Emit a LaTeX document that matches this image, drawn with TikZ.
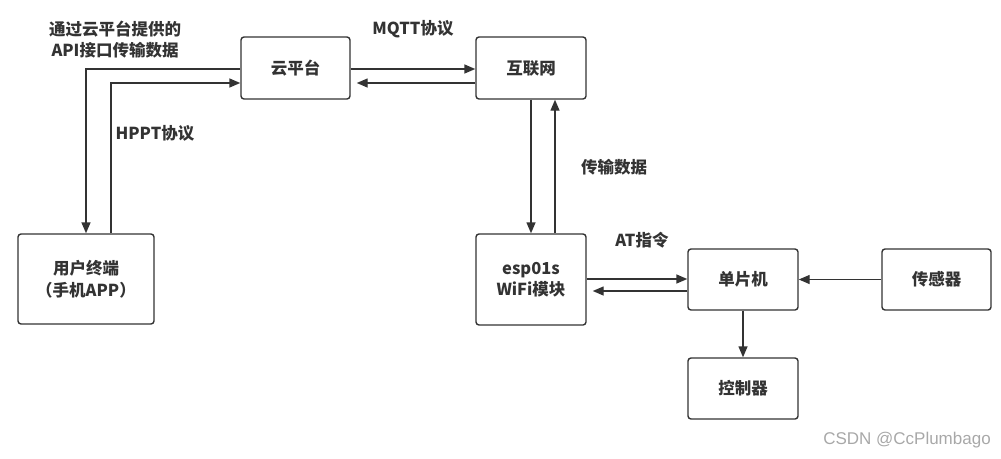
\documentclass[tikz,border=0pt]{standalone}
\usepackage{fontspec}
\setmainfont{Noto Sans CJK SC}
\newfontfamily\wmfont{Liberation Sans}
\usetikzlibrary{arrows.meta}
\definecolor{ink}{HTML}{333333}
\definecolor{wm}{HTML}{A8A8A8}
\tikzset{
  box/.style={draw=ink, line width=1.4pt, rounded corners=3pt, inner sep=0pt,
    align=center, text=ink, font=\fontsize{16.5}{21.5}\selectfont\bfseries},
  lbl/.style={text=ink, align=center, inner sep=0pt, font=\fontsize{16.5}{21.5}\selectfont\bfseries},
  arr/.style={draw=ink, line width=1.4pt, -{Triangle[length=11pt,width=9pt]}},
  gap/.style={shorten >=6pt}
}
\begin{document}
\begin{tikzpicture}[x=1pt,y=-1pt]
\useasboundingbox (0,0) rectangle (1001,458);
% boxes
\node[box, minimum width=109pt, minimum height=62pt] (cloud) at (295.5,68) {云平台};
\node[box, minimum width=110pt, minimum height=62pt] (net) at (531,68) {互联网};
\node[box, minimum width=136pt, minimum height=90pt] (user) at (86,279) {用户终端\\（手机APP）};
\node[box, minimum width=110pt, minimum height=91pt] (esp) at (531,279.5) {esp01s\\WiFi模块};
\node[box, minimum width=110pt, minimum height=61pt] (mcu) at (743,279.5) {单片机};
\node[box, minimum width=109pt, minimum height=61pt] (sensor) at (936.5,279.5) {传感器};
\node[box, minimum width=110pt, minimum height=61pt] (ctrl) at (743,388.5) {控制器};
% helper coordinates
\coordinate (ya) at (0,69);
\coordinate (yb) at (0,83);
\coordinate (xu) at (111,0);
\coordinate (xn) at (555,0);
\coordinate (yc) at (0,279);
\coordinate (yd) at (0,291);
% connectors
\draw[arr] (cloud.east |- ya) -- (net.west |- ya);
\draw[arr, gap] (net.west |- yb) -- (cloud.east |- yb);
\draw[arr] (cloud.west |- ya) -| (user.north);
\draw[arr] (user.north -| xu) |- (cloud.west |- yb);
\draw[arr] (net.south) -- (esp.north);
\draw[arr] (esp.north -| xn) -- (net.south -| xn);
\draw[arr] (esp.east |- yc) -- (mcu.west |- yc);
\draw[arr, gap] (mcu.west |- yd) -- (esp.east |- yd);
\draw[arr] (sensor.west) -- (mcu.east);
\draw[arr] (mcu.south) -- (ctrl.north);
% labels
\node[lbl] (lapi) at (115,39.5) {通过云平台提供的\\API接口传输数据};
\node[lbl] (lmqtt) at (413,29) {MQTT协议};
\node[lbl] (lhttp) at (155,133) {HPPT协议};
\node[lbl] (ldata) at (614,167) {传输数据};
\node[lbl] (lat) at (642,240) {AT指令};
\node[text=wm, inner sep=0pt, font=\wmfont\fontsize{17}{20}\selectfont] (wmark) at (907,440) {CSDN @CcPlumbago};
\end{tikzpicture}
\end{document}
